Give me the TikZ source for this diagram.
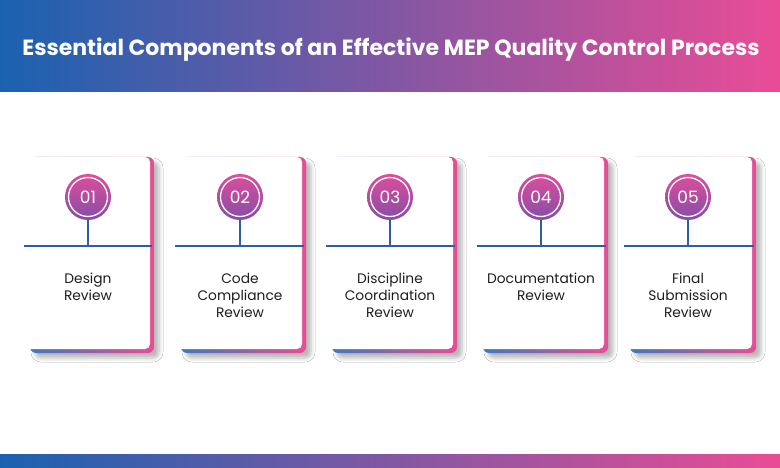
\documentclass[tikz,border=0pt]{standalone}
\usepackage{fontspec}
\setmainfont{Poppins}
\usetikzlibrary{shadows.blur}
\definecolor{blueA}{HTML}{1A62B0}
\definecolor{pinkA}{HTML}{EA4C96}
\definecolor{lineblue}{HTML}{2D5CA8}
\definecolor{circtop}{HTML}{DE4D9B}
\definecolor{circbot}{HTML}{854DA8}
\definecolor{txt}{HTML}{1E1E1E}
\tikzset{
  band/.style={left color=blueA, right color=pinkA, draw=none},
  cardback/.style={left color=blueA!85!white, right color=pinkA, draw=none, rounded corners=6pt,
    blur shadow={shadow xshift=5pt, shadow yshift=-5pt, shadow blur radius=4pt, shadow opacity=28}},
  cardfront/.style={fill=white, draw=none, rounded corners=5pt},
  hline/.style={draw=lineblue, line width=1.8pt},
  numcirc/.style={circle, minimum size=46pt, inner sep=0pt, top color=circtop, bottom color=circbot,
    draw=none, text=white, font=\fontsize{17}{17}\selectfont},
  ring/.style={draw=white, line width=1.3pt},
  label/.style={anchor=north, inner sep=0pt, align=center, text=txt,
    font=\fontsize{13.8}{16.8}\selectfont},
  title/.style={text=white, font=\fontsize{22}{26}\selectfont\bfseries, inner sep=0pt}
}
\begin{document}
\begin{tikzpicture}[x=1pt,y=1pt]
\useasboundingbox (0,0) rectangle (780,-468);
\fill[white] (0,0) rectangle (780,-468);
\path[band] (0,0) rectangle (780,-92);
\node[title] (title) at (391,-49.5) {Essential Components of an Effective MEP Quality Control Process};
\path[band] (0,-454) rectangle (780,-468);
\foreach \i/\L/\R/\cx/\txtt in {1/24/154/88/{Design\\Review},
    2/175/306/240/{Code\\Compliance\\Review},
    3/326/457/390/{Discipline\\Coordination\\Review},
    4/477/608/541/{Documentation\\Review},
    5/624/756/688/{Final\\Submission\\Review}}{
  \path[cardback] (\L+6,-157) rectangle (\R,-353);
  \path[cardfront] (\L,-157) rectangle (\R-4,-349);
  \coordinate (l\i) at (\L,-246);
  \coordinate (r\i) at (\R-2,-246);
  \draw[hline] (l\i) -- (r\i);
  \node[numcirc] (n\i) at (\cx,-197) {0\i};
  \draw[ring] (n\i.center) circle (19.5pt);
  \draw[hline] (n\i.south) -- (n\i |- l\i);
  \node[label] (t\i) at (\cx,-273) {\txtt};
}
\end{tikzpicture}
\end{document}
